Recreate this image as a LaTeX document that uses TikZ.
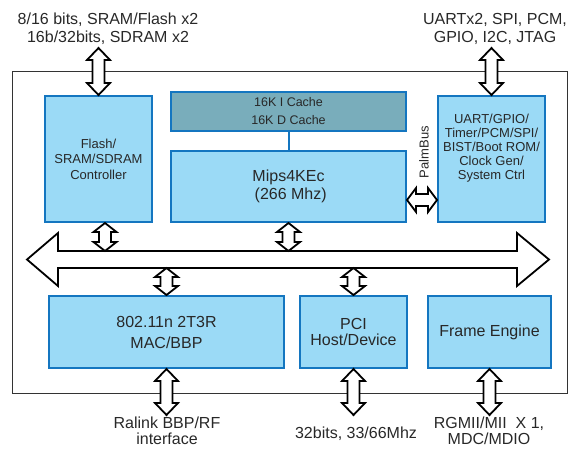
\documentclass[tikz,border=0pt]{standalone}
\usepackage{fontspec}
\setmainfont{Liberation Sans}
\usepackage{tikz}
\usetikzlibrary{calc}
\usepackage{xcolor}

\definecolor{boxfill}{RGB}{155,218,246}
\definecolor{boxline}{RGB}{20,118,192}
\definecolor{cachefill}{RGB}{121,173,187}
\definecolor{txt}{RGB}{40,40,40}

\newcommand{\bigtxt}{\fontsize{16}{18}\selectfont}
\newcommand{\midtxt}{\fontsize{13}{15.5}\selectfont}

\tikzset{
  blk/.style={draw=boxline, fill=boxfill, line width=2pt, align=center, text=txt, inner sep=0pt},
  lbl/.style={align=center, text=txt, inner sep=0pt, font=\bigtxt},
  % fat double arrow, top to bottom
  vfat/.style={draw=black, line width=1.8pt, fill=white, to path={
    let \p1=(\tikztostart), \p2=(\tikztotarget) in
    (\x1,\y1) -- ({\x1+11.5pt},{\y1-#1}) -- ({\x1+6pt},{\y1-#1}) -- ({\x1+6pt},{\y2+#1})
    -- ({\x1+11.5pt},{\y2+#1}) -- (\x1,\y2) -- ({\x1-11.5pt},{\y2+#1}) -- ({\x1-6pt},{\y2+#1})
    -- ({\x1-6pt},{\y1-#1}) -- ({\x1-11.5pt},{\y1-#1}) -- cycle}},
  vfat/.default=12pt,
  % fat double arrow, left to right
  hfat/.style={draw=black, line width=1.8pt, fill=white, to path={
    let \p1=(\tikztostart), \p2=(\tikztotarget) in
    (\x1,\y1) -- ({\x1+#1},{\y1+12pt}) -- ({\x1+#1},{\y1+6pt}) -- ({\x2-#1},{\y1+6pt})
    -- ({\x2-#1},{\y1+12pt}) -- (\x2,\y1) -- ({\x2-#1},{\y1-12pt}) -- ({\x2-#1},{\y1-6pt})
    -- ({\x1+#1},{\y1-6pt}) -- ({\x1+#1},{\y1-12pt}) -- cycle}},
  hfat/.default=9pt
}

\begin{document}
\begin{tikzpicture}[x=1pt, y=-1pt]
\useasboundingbox (0,0) rectangle (570,448);

% chip outline
\draw[line width=1pt, black!80] (12,71) rectangle (567,393);

% blocks
\node[blk, minimum width=107, minimum height=126, font=\midtxt] (flash) at (98.5,159) {Flash/\\SRAM/SDRAM\\Controller};
\node[blk, fill=cachefill, minimum width=235, minimum height=39, font=\fontsize{12.5}{18}\selectfont] (cache) at (288.5,111.5) {16K I Cache\\16K D Cache};
\node[blk, minimum width=235, minimum height=71, font=\bigtxt] (mips) at (288.5,186.5) {Mips4KEc\\\ (266 Mhz)};
\node[blk, minimum width=107, minimum height=126, font=\fontsize{13}{14}\selectfont] (uart) at (491.5,159) {UART/GPIO/\\Timer/PCM/SPI/\\BIST/Boot ROM/\\Clock Gen/\\System Ctrl\\[10pt]};
\node[blk, minimum width=235, minimum height=72, font=\fontsize{16}{21}\selectfont] (mac) at (166.5,332) {802.11n 2T3R\\MAC/BBP};
\node[blk, minimum width=107, minimum height=72, font=\fontsize{16}{16}\selectfont] (pci) at (353.5,332) {PCI\\Host/Device};
\node[blk, minimum width=123, minimum height=72, font=\bigtxt] (fe) at (489.5,332) {Frame Engine};

\draw[boxline, line width=2pt] (cache) -- (mips);

% system bus
\draw[line width=1.8pt, fill=white] (27,259.5) -- (58,233) -- (58,251) -- (517,251) -- (517,233)
  -- (549,259.5) -- (517,286) -- (517,268) -- (58,268) -- (58,286) -- cycle;
\coordinate (bustop) at (0,251);
\coordinate (busbot) at (0,268);

% outside labels
\node[lbl] (memtxt) at (108,29) {8/16 bits, SRAM/Flash x2\\16b/32bits, SDRAM x2};
\node[lbl] (iotxt) at (495,29) {UARTx2, SPI, PCM,\\GPIO, I2C, JTAG};
\node[lbl, font=\fontsize{16}{16.5}\selectfont] (rftxt) at (167,431) {Ralink BBP/RF\\interface};
\node[lbl] (pcitxt) at (356,434) {32bits, 33/66Mhz};
\node[lbl, font=\fontsize{16}{16.5}\selectfont] (ethtxt) at (489,431) {RGMII/MII\ \ X 1,\\MDC/MDIO};
\node[lbl, rotate=90, font=\fontsize{13}{15}\selectfont] (palmtxt) at (424,152) {PalmBus};

\coordinate (memend) at (98.5,48);
\coordinate (ioend) at (491.5,48);
\coordinate (rfend) at (166.5,415);
\coordinate (pciend) at (353.5,415);
\coordinate (ethend) at (489.5,415);
\coordinate (flbus) at (105,223);
\coordinate (palm) at (420,200);

% connections
\draw[vfat] (memend) to (flash.north);
\draw[vfat] (ioend) to (uart.north);
\draw[vfat=9pt] (flbus) to (flbus |- bustop);
\draw[vfat=9pt] (mips.south) to (mips.south |- bustop);
\draw[vfat=9pt] (mac.north |- busbot) to (mac.north);
\draw[vfat=9pt] (pci.north |- busbot) to (pci.north);
\draw[vfat] (mac.south) to (rfend);
\draw[vfat] (pci.south) to (pciend);
\draw[vfat] (fe.south) to (ethend);
\draw[hfat] (palm -| mips.east) to (palm -| uart.west);
\end{tikzpicture}
\end{document}
